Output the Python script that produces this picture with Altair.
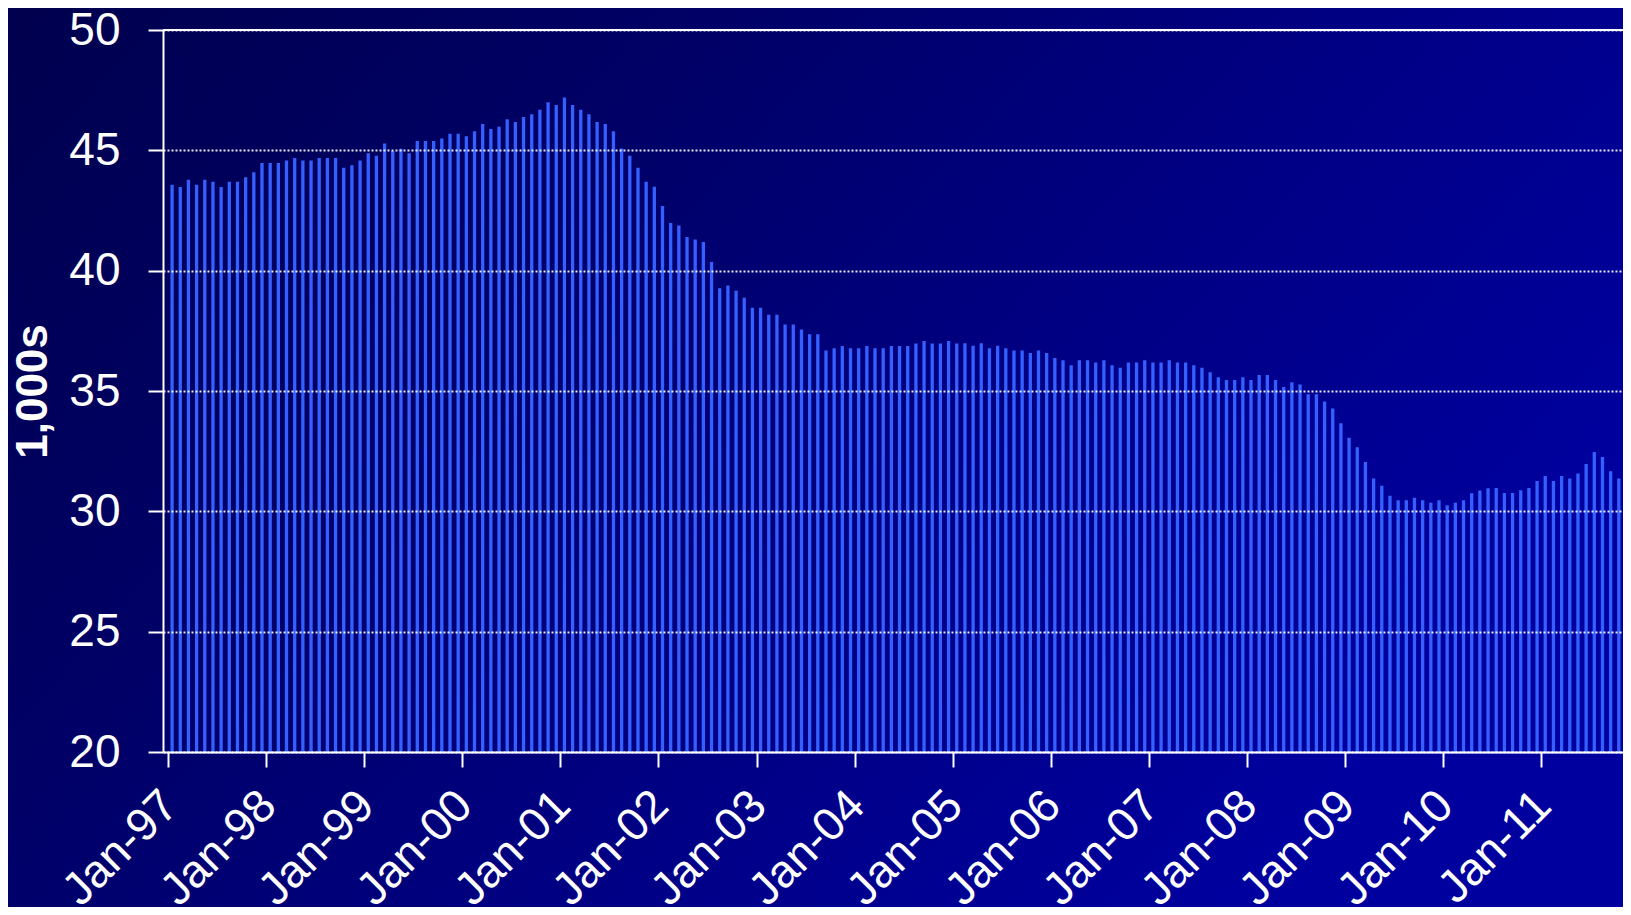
import altair as alt
import pandas as pd

# ---- data (thousands, monthly from Jan-97) ----
tick_labels = ["Jan-97", "Jan-98", "Jan-99", "Jan-00", "Jan-01", "Jan-02", "Jan-03",
               "Jan-04", "Jan-05", "Jan-06", "Jan-07", "Jan-08", "Jan-09", "Jan-10", "Jan-11"]

values_1997 = [43.57, 43.48, 43.78, 43.57, 43.78, 43.69, 43.48, 43.69, 43.69, 43.88, 44.09, 44.47]
values_1998 = [44.47, 44.47, 44.58, 44.68, 44.58, 44.58, 44.68, 44.68, 44.68, 44.28, 44.38, 44.58]
values_1999 = [44.88, 44.78, 45.28, 44.97, 45.07, 44.88, 45.39, 45.39, 45.39, 45.49, 45.69, 45.69]
values_2000 = [45.58, 45.79, 46.09, 45.89, 45.98, 46.29, 46.18, 46.39, 46.50, 46.69, 47.00, 46.88]
values_2001 = [47.20, 46.88, 46.69, 46.50, 46.18, 46.09, 45.79, 45.08, 44.78, 44.28, 43.69, 43.49]
values_2002 = [42.69, 41.98, 41.88, 41.40, 41.30, 41.19, 40.36, 39.27, 39.38, 39.17, 38.87, 38.46]
values_2003 = [38.46, 38.17, 38.17, 37.76, 37.76, 37.56, 37.36, 37.36, 36.68, 36.78, 36.87, 36.78]
values_2004 = [36.78, 36.87, 36.78, 36.78, 36.87, 36.87, 36.87, 36.97, 37.08, 36.97, 36.97, 37.08]
values_2005 = [36.97, 36.98, 36.88, 36.98, 36.78, 36.88, 36.78, 36.68, 36.68, 36.58, 36.68, 36.58]
values_2006 = [36.37, 36.28, 36.07, 36.28, 36.28, 36.18, 36.28, 36.07, 35.97, 36.18, 36.18, 36.28]
values_2007 = [36.18, 36.18, 36.28, 36.18, 36.18, 36.07, 35.97, 35.78, 35.57, 35.46, 35.46, 35.57]
values_2008 = [35.46, 35.67, 35.67, 35.46, 35.17, 35.36, 35.27, 34.86, 34.86, 34.56, 34.27, 33.66]
values_2009 = [33.06, 32.66, 32.05, 31.36, 31.06, 30.65, 30.46, 30.46, 30.56, 30.46, 30.36, 30.46]
values_2010 = [30.25, 30.36, 30.46, 30.75, 30.87, 30.96, 30.97, 30.76, 30.76, 30.88, 30.97, 31.26]
values_2011 = [31.47, 31.26, 31.47, 31.36, 31.57, 31.97, 32.47, 32.26, 31.67, 31.36]

values = (values_1997 + values_1998 + values_1999 + values_2000 + values_2001 +
          values_2002 + values_2003 + values_2004 + values_2005 + values_2006 +
          values_2007 + values_2008 + values_2009 + values_2010 + values_2011)

y_ticks = [20, 25, 30, 35, 40, 45, 50]

df = pd.DataFrame({"m": list(range(len(values))), "v": values})
bg_df = pd.DataFrame({"a": [0]})

FONT = "Liberation Sans"
W, H = 1460, 722
months_visible = W / 8.23

label_js = "[" + ",".join("'%s'" % t for t in tick_labels) + "]"

x_scale = alt.Scale(domain=[0, months_visible], nice=False, zero=False)
y_scale = alt.Scale(domain=[20, 50], nice=False, zero=False)

background = alt.Chart(bg_df).mark_rect(
    fill=alt.LinearGradient(
        gradient="linear",
        x1=0, y1=0, x2=1, y2=0.5,
        stops=[
            alt.GradientStop(color="#00004e", offset=0),
            alt.GradientStop(color="#000066", offset=0.35),
            alt.GradientStop(color="#000086", offset=0.7),
            alt.GradientStop(color="#00009e", offset=1),
        ],
    )
).encode(
    x=alt.value(-155), x2=alt.value(W),
    y=alt.value(-22), y2=alt.value(H + 155),
)

bars = alt.Chart(df).transform_calculate(
    mid="datum.m + 0.5"
).mark_bar(color="#3560ff", size=3.3, clip=True).encode(
    x=alt.X("mid:Q", scale=x_scale, title=None,
            axis=alt.Axis(
                values=list(range(0, 12 * len(tick_labels), 12)),
                labelExpr=label_js + "[round(datum.value / 12)]",
                grid=False,
                domainColor="white", domainWidth=2,
                tickColor="white", tickWidth=2, tickSize=15,
                labelColor="white", labelFont=FONT, labelFontSize=46,
                labelAngle=315, labelAlign="right", labelBaseline="middle",
                labelPadding=31, labelOffset=2,
                labelOverlap=False, labelFlush=False, labelBound=False,
                zindex=1,
            )),
    y=alt.Y("v:Q", scale=y_scale, title="1,000s",
            axis=alt.Axis(
                values=y_ticks,
                grid=True, gridColor="white", gridDash=[2, 2], gridWidth=2,
                gridOpacity=0.9,
                domainColor="white", domainWidth=2,
                tickColor="white", tickWidth=2, tickSize=15,
                labelColor="white", labelFont=FONT, labelFontSize=46,
                labelPadding=28, labelFlush=False, labelBound=False,
                titleColor="white", titleFont=FONT, titleFontSize=44,
                titleFontWeight="bold", titleAngle=270,
                titleX=-130, titleY=H / 2,
                titleAlign="center", titleBaseline="middle",
                zindex=1,
            )),
    y2=alt.datum(20),
)

top_line = alt.Chart(bg_df).mark_rule(color="white", strokeWidth=2).encode(
    y=alt.value(0),
    x=alt.value(0), x2=alt.value(W),
)

chart = alt.layer(background, bars, top_line).properties(
    width=W, height=H,
    autosize=alt.AutoSizeParams(type="none"),
    padding={"left": 155, "top": 22, "right": 0, "bottom": 155},
    background="#000070",
).configure_view(stroke=None)

chart.save("out.html", embed_options={"renderer": "svg", "actions": False})
